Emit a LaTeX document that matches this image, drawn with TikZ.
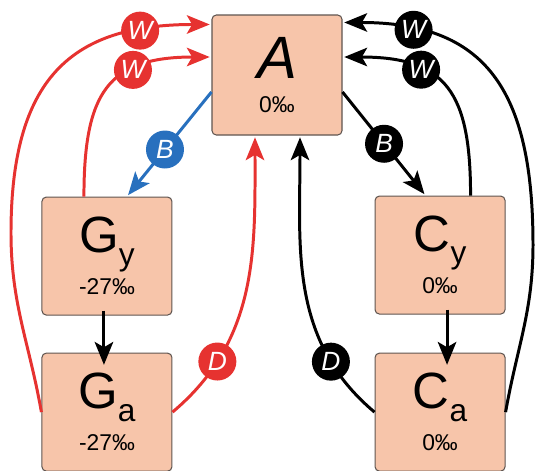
\documentclass[tikz,border=0pt]{standalone}
\usepackage{fontspec}
\setmainfont{Liberation Sans}
\definecolor{boxfill}{RGB}{247,197,170}
\definecolor{boxline}{RGB}{95,85,80}
\definecolor{wred}{RGB}{230,50,48}
\definecolor{wblue}{RGB}{40,112,190}
\usetikzlibrary{arrows.meta, positioning}
\tikzset{
  box/.style={rectangle, rounded corners=2.5pt,
    draw=boxline, fill=boxfill, line width=0.6pt,
    minimum width=2.6cm, minimum height=2.36cm,
    align=center, font=\fontsize{13}{13}\selectfont},
  arrow/.style={->, >={Stealth[length=13pt, width=10.5pt, inset=3pt]},
    line width=1.7pt, color=black, shorten >=1pt},
  redarrow/.style={arrow, color=wred},
  bluearrow/.style={arrow, color=wblue},
  tag/.style={circle, fill=black, text=white, inner sep=0pt,
    minimum size=0.76cm, font=\fontsize{15}{15}\selectfont\itshape},
  redtag/.style={tag, fill=wred},
  bluetag/.style={tag, fill=wblue},
}
\newcommand{\bigname}[1]{{\fontsize{29}{29}\selectfont #1}}
\newcommand{\subname}[1]{\raisebox{-7pt}[0pt][0pt]{\fontsize{18}{18}\selectfont #1}}

\begin{document}
\begin{tikzpicture}
  \useasboundingbox (-5.54,1.5) rectangle (5.18,-7.9);
  \node[box, minimum height=2.4cm] (A)
    {{\fontsize{34}{34}\selectfont\itshape A}\\[6pt]0‰};
  \node[box, below left=1.22cm and 0.78cm of A] (gy)
    {\bigname{G}\subname{y}\\[11pt]-27‰};
  \node[box, below=0.74cm of gy] (ga)
    {\bigname{G}\subname{a}\\[11pt]-27‰};
  \node[box, below right=1.2cm and 0.64cm of A] (cy)
    {\bigname{C}\subname{y}\\[11pt]0‰};
  \node[box, below=0.76cm of cy] (ca)
    {\bigname{C}\subname{a}\\[11pt]0‰};
  % outermost points of the two long W loops
  \coordinate (gbend) at (-5.32,-3.16);
  \coordinate (cbend) at (5.12,-3.4);

  \draw[arrow] ([xshift=-0.06cm, yshift=0.1cm]gy.south)
    -- ([xshift=-0.06cm, yshift=-0.28cm]ga.north);
  \draw[arrow] ([xshift=0.14cm, yshift=0.1cm]cy.south)
    -- ([xshift=0.14cm, yshift=-0.28cm]ca.north);

  \draw[redarrow] (ga.west) to[out=100, in=-90] (gbend)
    to[out=90, in=180, out looseness=1.37, in looseness=1.24]
    node[redtag, pos=0.81] (wga) {W} ([yshift=-0.2cm]A.north west);
  \draw[redarrow] ([xshift=-0.46cm]gy.north) to[out=90, in=180, looseness=1.4]
    node[redtag, pos=0.67] (wgy) {W} ([yshift=0.36cm]A.west);
  \draw[redarrow] (ga.east) to[out=40, in=-90]
    node[redtag, pos=0.22] (dga) {D} ([xshift=-0.44cm]A.south);
  \draw[bluearrow] ([yshift=-0.34cm]A.west) --
    node[bluetag, pos=0.55] (bgy) {B} ([xshift=0.4cm]gy.north);

  \draw[arrow] ([yshift=-0.34cm]A.east) --
    node[tag, pos=0.5] (bcy) {B} ([xshift=-0.29cm]cy.north);
  \draw[arrow] ([xshift=0.61cm]cy.north) to[out=90, in=0, looseness=1.4]
    node[tag, pos=0.67] (wcy) {W} ([yshift=0.36cm]A.east);
  \draw[arrow] (ca.east) to[out=80, in=-90] (cbend)
    to[out=90, in=0, out looseness=1.37, in looseness=1.24]
    node[tag, pos=0.81] (wca) {W} ([yshift=-0.16cm]A.north east);
  \draw[arrow] (ca.west) to[out=140, in=-90]
    node[tag, pos=0.22] (dca) {D} ([xshift=0.46cm]A.south);
\end{tikzpicture}
\end{document}
